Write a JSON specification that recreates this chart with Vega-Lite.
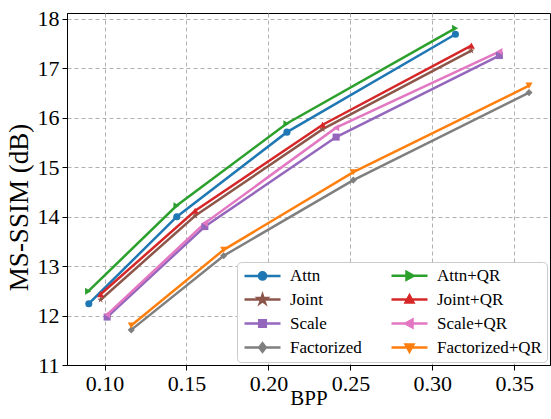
{
  "$schema": "https://vega.github.io/schema/vega-lite/v6.json",
  "autosize": "none",
  "width": 483,
  "height": 352,
  "padding": {"left": 67, "top": 13, "right": 1, "bottom": 54},
  "background": "white",
  "config": {
    "view": {"stroke": "black", "strokeWidth": 1},
    "font": "Liberation Serif",
    "style": {
      "guide-label": {"font": "Liberation Serif", "fill": "black"},
      "guide-title": {"font": "Liberation Serif", "fill": "black"}
    },
    "axis": {
      "labelFont": "Liberation Serif",
      "labelFontSize": 22,
      "labelColor": "black",
      "titleFont": "Liberation Serif",
      "titleFontSize": 21,
      "titleFontWeight": "normal",
      "titleColor": "black",
      "domainColor": "black",
      "domainWidth": 1,
      "tickColor": "black",
      "tickSize": 5,
      "tickWidth": 1,
      "gridColor": "#b0b0b0",
      "gridDash": [4, 3],
      "gridWidth": 1,
      "labelPadding": 3
    },
    "legend": {
      "labelFont": "Liberation Serif",
      "labelFontSize": 17,
      "labelColor": "black",
      "labelLimit": 300
    }
  },
  "data": {
    "values": [
      {"method": "Attn", "bpp": 0.0904, "ssim": 12.24},
      {"method": "Attn", "bpp": 0.1441, "ssim": 14.00},
      {"method": "Attn", "bpp": 0.2113, "ssim": 15.71},
      {"method": "Attn", "bpp": 0.3141, "ssim": 17.69},
      {"method": "Joint", "bpp": 0.0976, "ssim": 12.32},
      {"method": "Joint", "bpp": 0.1553, "ssim": 14.02},
      {"method": "Joint", "bpp": 0.2331, "ssim": 15.77},
      {"method": "Joint", "bpp": 0.3238, "ssim": 17.36},
      {"method": "Scale", "bpp": 0.1016, "ssim": 11.97},
      {"method": "Scale", "bpp": 0.1612, "ssim": 13.80},
      {"method": "Scale", "bpp": 0.2413, "ssim": 15.61},
      {"method": "Scale", "bpp": 0.3409, "ssim": 17.26},
      {"method": "Factorized", "bpp": 0.1163, "ssim": 11.71},
      {"method": "Factorized", "bpp": 0.1727, "ssim": 13.21},
      {"method": "Factorized", "bpp": 0.2518, "ssim": 14.74},
      {"method": "Factorized", "bpp": 0.3590, "ssim": 16.51},
      {"method": "Attn+QR", "bpp": 0.0900, "ssim": 12.49},
      {"method": "Attn+QR", "bpp": 0.1439, "ssim": 14.22},
      {"method": "Attn+QR", "bpp": 0.2110, "ssim": 15.88},
      {"method": "Attn+QR", "bpp": 0.3139, "ssim": 17.81},
      {"method": "Joint+QR", "bpp": 0.0976, "ssim": 12.43},
      {"method": "Joint+QR", "bpp": 0.1553, "ssim": 14.12},
      {"method": "Joint+QR", "bpp": 0.2331, "ssim": 15.86},
      {"method": "Joint+QR", "bpp": 0.3238, "ssim": 17.46},
      {"method": "Scale+QR", "bpp": 0.1016, "ssim": 12.02},
      {"method": "Scale+QR", "bpp": 0.1612, "ssim": 13.87},
      {"method": "Scale+QR", "bpp": 0.2413, "ssim": 15.80},
      {"method": "Scale+QR", "bpp": 0.3409, "ssim": 17.34},
      {"method": "Factorized+QR", "bpp": 0.1163, "ssim": 11.80},
      {"method": "Factorized+QR", "bpp": 0.1727, "ssim": 13.33},
      {"method": "Factorized+QR", "bpp": 0.2518, "ssim": 14.90},
      {"method": "Factorized+QR", "bpp": 0.3590, "ssim": 16.65}
    ]
  },
  "encoding": {
    "x": {
      "field": "bpp", "type": "quantitative",
      "scale": {"domain": [0.0771, 0.3718], "nice": false, "zero": false},
      "axis": {"title": "BPP", "values": [0.1, 0.15, 0.2, 0.25, 0.3, 0.35], "format": ".2f", "titlePadding": -7}
    },
    "y": {
      "field": "ssim", "type": "quantitative",
      "scale": {"domain": [11, 18.12], "nice": false, "zero": false},
      "axis": {"title": "MS-SSIM (dB)", "values": [11, 12, 13, 14, 15, 16, 17, 18], "titlePadding": 4, "titleFontSize": 27, "titleY": 194}
    }
  },
  "resolve": {"scale": {"shape": "independent", "fill": "independent", "stroke": "independent"}},
  "layer": [
    {
      "mark": {"type": "line", "strokeWidth": 2.5},
      "encoding": {
        "color": {
          "field": "method", "type": "nominal",
          "scale": {
            "domain": ["Attn", "Joint", "Scale", "Factorized", "Attn+QR", "Joint+QR", "Scale+QR", "Factorized+QR"],
            "range": ["#1f77b4", "#8c564b", "#9467bd", "#7f7f7f", "#2ca02c", "#d62728", "#e377c2", "#ff7f0e"]
          },
          "legend": null
        }
      }
    },
    {
      "mark": {"type": "point", "filled": true, "size": 50, "opacity": 1},
      "encoding": {
        "color": {"field": "method", "type": "nominal", "legend": null},
        "shape": {
          "field": "method", "type": "nominal",
          "scale": {
            "domain": ["Attn", "Joint", "Scale", "Factorized", "Attn+QR", "Joint+QR", "Scale+QR", "Factorized+QR"],
            "range": ["circle", "M0,-1L0.225,-0.309L0.951,-0.309L0.363,0.118L0.588,0.809L0,0.382L-0.588,0.809L-0.363,0.118L-0.951,-0.309L-0.225,-0.309Z", "square", "diamond", "triangle-right", "triangle-up", "triangle-left", "triangle-down"]
          },
          "legend": null
        }
      }
    },
    {
      "transform": [{"filter": "false"}],
      "mark": {"type": "point", "filled": true, "size": 144, "opacity": 1, "strokeWidth": 2.5},
      "encoding": {
        "fill": {
          "field": "method", "type": "nominal",
          "scale": {
            "domain": ["Attn", "Joint", "Scale", "Factorized", "Attn+QR", "Joint+QR", "Scale+QR", "Factorized+QR"],
            "range": ["#1f77b4", "#8c564b", "#9467bd", "#7f7f7f", "#2ca02c", "#d62728", "#e377c2", "#ff7f0e"]
          },
          "legend": {
            "title": null,
            "orient": "none",
            "legendX": 170,
            "legendY": 249,
            "columns": 2,
            "columnPadding": 24,
            "rowPadding": 5,
            "padding": 5,
            "labelOffset": 31,
            "symbolSize": 144,
            "symbolStrokeWidth": 2.5,
            "symbolOpacity": 1,
            "fillColor": "white",
            "strokeColor": "#cccccc",
            "cornerRadius": 4
          }
        },
        "stroke": {
          "field": "method", "type": "nominal",
          "scale": {
            "domain": ["Attn", "Joint", "Scale", "Factorized", "Attn+QR", "Joint+QR", "Scale+QR", "Factorized+QR"],
            "range": ["#1f77b4", "#8c564b", "#9467bd", "#7f7f7f", "#2ca02c", "#d62728", "#e377c2", "#ff7f0e"]
          },
          "legend": {
            "title": null,
            "orient": "none",
            "legendX": 170,
            "legendY": 249,
            "columns": 2,
            "columnPadding": 24,
            "rowPadding": 5,
            "padding": 5,
            "labelOffset": 31,
            "symbolSize": 144,
            "symbolStrokeWidth": 2.5,
            "symbolOpacity": 1,
            "fillColor": "white",
            "strokeColor": "#cccccc",
            "cornerRadius": 4
          }
        },
        "shape": {
          "field": "method", "type": "nominal",
          "scale": {
            "domain": ["Attn", "Joint", "Scale", "Factorized", "Attn+QR", "Joint+QR", "Scale+QR", "Factorized+QR"],
            "range": [
              "M-1,0L5,0M2.6,0A0.6,0.6,0,1,1,1.4,0A0.6,0.6,0,1,1,2.6,0Z",
              "M-1,0L5,0M2,-0.75L2.169,-0.232L2.713,-0.232L2.272,0.088L2.441,0.607L2,0.287L1.559,0.607L1.728,0.088L1.287,-0.232L1.831,-0.232Z",
              "M-1,0L5,0M1.45,-0.55H2.55V0.55H1.45Z",
              "M-1,0L5,0M2,-0.7L2.55,0L2,0.7L1.45,0Z",
              "M-1,0L5,0M2.7,0L1.5,-0.65L1.5,0.65Z",
              "M-1,0L5,0M2,-0.7L2.65,0.5L1.35,0.5Z",
              "M-1,0L5,0M1.3,0L2.5,-0.65L2.5,0.65Z",
              "M-1,0L5,0M2,0.7L2.65,-0.5L1.35,-0.5Z"
            ]
          },
          "legend": {
            "title": null,
            "orient": "none",
            "legendX": 170,
            "legendY": 249,
            "columns": 2,
            "columnPadding": 24,
            "rowPadding": 5,
            "padding": 5,
            "labelOffset": 31,
            "symbolSize": 144,
            "symbolStrokeWidth": 2.5,
            "symbolOpacity": 1,
            "fillColor": "white",
            "strokeColor": "#cccccc",
            "cornerRadius": 4
          }
        }
      }
    }
  ]
}
